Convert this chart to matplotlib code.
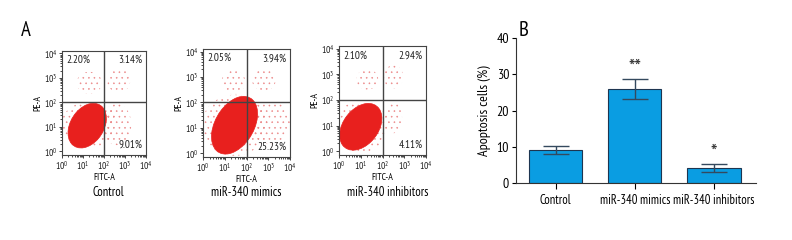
import matplotlib
matplotlib.use("Agg")
import matplotlib.pyplot as plt
from matplotlib.patches import Ellipse
import numpy as np

plt.rcParams['font.family'] = ['PT Sans Narrow', 'DejaVu Sans']
plt.rcParams['mathtext.fontset'] = 'custom'
plt.rcParams['mathtext.rm'] = 'PT Sans Narrow'
plt.rcParams['mathtext.it'] = 'PT Sans Narrow'
plt.rcParams['hatch.linewidth'] = 0.4

# -------------------------------
# Data
# -------------------------------
groups = ["Control", "miR-340 mimics", "miR-340 inhibitors"]
apoptosis = [9.1, 26.0, 4.1]
apoptosis_err = [1.1, 2.8, 1.1]
stars = ["", "**", "*"]

# quadrant percentages: upper-left, upper-right, lower-right
q_ul = ["2.20%", "2.05%", "2.10%"]
q_ur = ["3.14%", "3.94%", "2.94%"]
q_lr = ["9.01%", "25.23%", "4.11%"]

# dense cell cloud (log10 units): centre x, centre y, major, minor, angle
core_x = [1.2, 1.45, 1.0]
core_y = [1.05, 1.1, 0.95]
core_major = [2.1, 2.6, 2.2]
core_minor = [1.5, 1.7, 1.5]
core_angle = [45, 50, 40]

# sparse events (log10 units): one list of regions per panel (x, y, w, h)
sparse = [
    [(1.2, 1.05, 2.5, 1.9), (2.6, 1.1, 1.4, 1.7), (1.3, 2.8, 1.2, 0.9), (2.7, 2.9, 1.1, 1.0), (2.35, 1.5, 0.3, 0.7)],
    [(1.45, 1.1, 3.0, 2.4), (3.1, 1.2, 1.8, 1.7), (1.4, 2.8, 1.1, 0.9), (2.8, 2.9, 1.1, 0.9)],
    [(1.0, 0.95, 2.5, 2.0), (2.5, 1.3, 0.8, 1.2), (1.3, 2.8, 1.0, 0.8), (2.5, 2.9, 0.9, 0.9)],
]

# axes boxes in pixels (left, top, right, bottom) for a 792x240 figure
W, H = 792, 240
boxes = [(62, 51, 146, 155), (203, 49, 290, 157), (339, 46, 426, 155)]
title_x = [108, 246, 388]

fig = plt.figure(figsize=(W / 100, H / 100), dpi=100)

red = "#e8201e"
grey = "#444444"

def px_axes(l, t, r, b):
    return fig.add_axes([l / W, (H - b) / H, (r - l) / W, (b - t) / H])

# -------------------------------
# Panel A: flow cytometry plots
# -------------------------------
minor = [d + np.log10(k) for d in range(4) for k in range(2, 10)]
for i in range(3):
    ax = px_axes(*boxes[i])
    ax.set_xlim(0, 4)
    ax.set_ylim(-0.15, 4.1)
    for (sx, sy, sw, sh) in sparse[i]:
        ax.add_patch(Ellipse((sx, sy), sw, sh, facecolor="none", edgecolor="#ec8a8a",
                             lw=0, hatch="..."))
    ax.add_patch(Ellipse((core_x[i], core_y[i]), core_major[i], core_minor[i],
                         angle=core_angle[i], facecolor=red, edgecolor=red, lw=0.5))
    ax.axvline(2, color=grey, lw=1)
    ax.axhline(2, color=grey, lw=1)
    ax.set_xticks([0, 1, 2, 3, 4])
    ax.set_yticks([0, 1, 2, 3, 4])
    ax.set_xticks(minor, minor=True)
    ax.set_yticks(minor, minor=True)
    lbl = ["$10^{%d}$" % k for k in range(5)]
    ax.set_xticklabels(lbl, fontsize=7)
    ax.set_yticklabels(lbl, fontsize=7)
    ax.tick_params(length=2, width=0.6, pad=1, colors="#222222")
    ax.tick_params(which="minor", length=1.2, width=0.5)
    for s in ax.spines.values():
        s.set_color(grey)
        s.set_linewidth(0.8)
    ax.set_xlabel("FITC-A", fontsize=7, labelpad=1)
    ax.set_ylabel("PE-A", fontsize=7, labelpad=1)
    ax.text(0.05, 0.96, q_ul[i], transform=ax.transAxes, fontsize=8, va="top", color="#222222")
    ax.text(0.96, 0.96, q_ur[i], transform=ax.transAxes, fontsize=8, va="top", ha="right", color="#222222")
    ax.text(0.96, 0.05, q_lr[i], transform=ax.transAxes, fontsize=8, va="bottom", ha="right", color="#222222")
    fig.text(title_x[i] / W, (H - 193) / H, groups[i], fontsize=9, ha="center", va="center")

fig.text(26 / W, (H - 30) / H, "A", fontsize=15, ha="center", va="center")
fig.text(524 / W, (H - 30) / H, "B", fontsize=15, ha="center", va="center")

# -------------------------------
# Panel B: bar chart
# -------------------------------
bx = px_axes(516, 38.3, 756, 183)
x = np.arange(len(groups))
bx.bar(x, apoptosis, width=0.67, color="#0a9de2", edgecolor="#1d3550", linewidth=0.8, zorder=2)
bx.errorbar(x, apoptosis, yerr=apoptosis_err, fmt="none", ecolor="#34495e",
            elinewidth=1, capsize=9.5, capthick=1, zorder=3)
for i in range(3):
    if stars[i]:
        bx.annotate(stars[i], xy=(x[i], apoptosis[i] + apoptosis_err[i]), xytext=(0, 1),
                    textcoords="offset points", ha="center", va="bottom",
                    fontsize=16, color="#333333")
bx.set_xlim(-0.5, 2.53)
bx.set_ylim(0, 40)
bx.set_yticks([0, 10, 20, 30, 40])
bx.set_xticks(x)
bx.set_xticklabels(groups, fontsize=9)
bx.tick_params(axis="y", labelsize=10, length=3, width=0.8, pad=2)
bx.tick_params(axis="x", length=4, width=0.8, pad=4)
bx.spines["top"].set_visible(False)
bx.spines["right"].set_visible(False)
bx.spines["left"].set_color("#333333")
bx.spines["bottom"].set_color("#333333")
bx.set_ylabel("Apoptosis cells (%)", fontsize=10, labelpad=4)

fig.savefig("out.png", dpi=100)
